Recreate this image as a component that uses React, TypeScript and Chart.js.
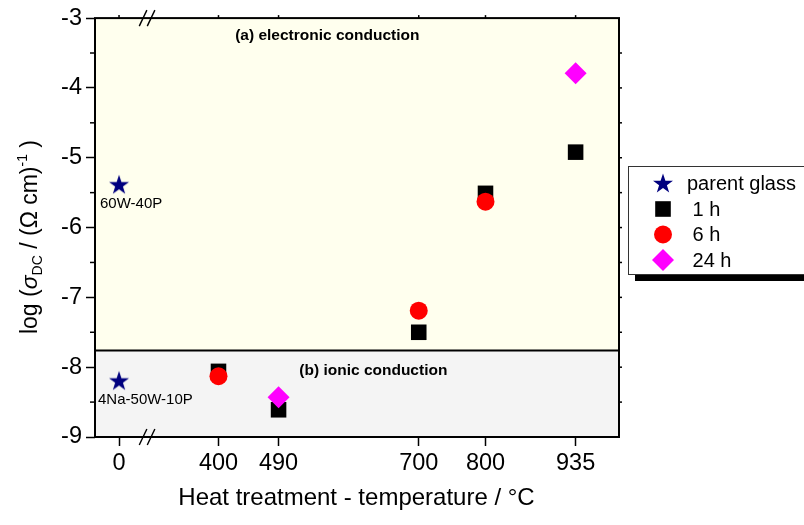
import React, { useEffect, useRef } from 'react';
import { Chart, registerables } from 'chart.js';

Chart.register(...registerables);

// ---- data ----
const temperatureTicks = [0, 400, 490, 700, 800, 935];
const tickLabels = ['0', '400', '490', '700', '800', '935'];
const yTickValues = [-9, -8, -7, -6, -5, -4, -3];

const parentX = [0, 0];
const parentY = [-5.38, -8.19];
const h1X = [400, 490, 700, 800, 935];
const h1Y = [-8.06, -8.61, -7.5, -5.51, -4.92];
const h6X = [400, 700, 800];
const h6Y = [-8.13, -7.19, -5.63];
const h24X = [490, 935];
const h24Y = [-8.43, -3.79];

const legendLabels = ['parent glass', ' 1 h', ' 6 h', ' 24 h'];
const regionBoundary = -7.76;
const regionATitle = '(a) electronic conduction';
const regionBTitle = '(b) ionic conduction';
const sampleLabels = ['60W-40P', '4Na-50W-10P'];
const xTitle = 'Heat treatment - temperature / \u00B0C';

// broken axis: 0 °C is drawn left of the break
const ZERO_POS = 251;
const BREAK_POS = 293;
const toAxis = (t: number) => (t === 0 ? ZERO_POS : t);

const NAVY = '#00007f';
const FONT = "'Liberation Sans', Arial, sans-serif";

function makeStar(): HTMLCanvasElement {
  const c = document.createElement('canvas');
  c.width = 24;
  c.height = 24;
  const ctx = c.getContext('2d')!;
  const R = 10.5;
  const r = 4.1;
  const cx = 12;
  const cy = 13;
  ctx.beginPath();
  for (let i = 0; i < 10; i++) {
    const a = -Math.PI / 2 + (i * Math.PI) / 5;
    const rad = i % 2 === 0 ? R : r;
    ctx.lineTo(cx + rad * Math.cos(a), cy + rad * Math.sin(a));
  }
  ctx.closePath();
  ctx.fillStyle = NAVY;
  ctx.fill();
  return c;
}

const pts = (xs: number[], ys: number[]) => xs.map((x, i) => ({ x: toAxis(x), y: ys[i] }));

export default function App() {
  const ref = useRef<HTMLCanvasElement>(null);

  useEffect(() => {
    if (!ref.current) return;
    const star = makeStar();

    const decor = {
      id: 'decor',
      beforeDraw(chart: any) {
        const { ctx, chartArea: a, scales } = chart;
        const yb = scales.y.getPixelForValue(regionBoundary);
        ctx.save();
        ctx.fillStyle = '#ffffee';
        ctx.fillRect(a.left, a.top, a.right - a.left, yb - a.top);
        ctx.fillStyle = '#f4f4f4';
        ctx.fillRect(a.left, yb, a.right - a.left, a.bottom - yb);
        ctx.restore();
      },
      afterDraw(chart: any) {
        const { ctx, chartArea: a, scales } = chart;
        const xs = scales.x;
        const ys = scales.y;
        ctx.save();
        ctx.strokeStyle = '#000';
        // divider
        const yb = ys.getPixelForValue(regionBoundary);
        ctx.lineWidth = 2;
        ctx.beginPath();
        ctx.moveTo(a.left, yb);
        ctx.lineTo(a.right, yb);
        ctx.stroke();
        // frame
        ctx.strokeRect(a.left, a.top, a.right - a.left, a.bottom - a.top);
        // minor ticks left, ticks right
        ctx.lineWidth = 1.5;
        for (let v = -9; v <= -3.001; v += 0.5) {
          const p = ys.getPixelForValue(v);
          if (Math.abs(v - Math.round(v)) > 0.1) {
            ctx.beginPath();
            ctx.moveTo(a.left - 5, p);
            ctx.lineTo(a.left, p);
            ctx.stroke();
          }
          if (v > -9) {
            ctx.beginPath();
            ctx.moveTo(a.right, p);
            ctx.lineTo(a.right + 3, p);
            ctx.stroke();
          }
        }
        // top ticks
        temperatureTicks.forEach((t) => {
          const p = xs.getPixelForValue(toAxis(t));
          ctx.beginPath();
          ctx.moveTo(p, a.top);
          ctx.lineTo(p, a.top - 3);
          ctx.stroke();
        });
        // break marks
        const bx = xs.getPixelForValue(BREAK_POS);
        [a.top, a.bottom].forEach((yy: number) => {
          [-4, 4].forEach((dx) => {
            ctx.beginPath();
            ctx.lineWidth = 1.4;
            ctx.moveTo(bx + dx - 3.8, yy + 8);
            ctx.lineTo(bx + dx + 3.8, yy - 8);
            ctx.stroke();
          });
        });
        // region titles
        ctx.fillStyle = '#000';
        ctx.textBaseline = 'middle';
        ctx.textAlign = 'center';
        ctx.font = `bold 15.5px ${FONT}`;
        ctx.fillText(regionATitle, xs.getPixelForValue(563), a.top + 18);
        ctx.fillText(regionBTitle, xs.getPixelForValue(632), yb + 20);
        // sample labels
        ctx.font = `15px ${FONT}`;
        ctx.textAlign = 'left';
        const sx = xs.getPixelForValue(toAxis(parentX[0]));
        ctx.fillText(sampleLabels[0], sx - 19, ys.getPixelForValue(parentY[0]) + 20);
        ctx.fillText(sampleLabels[1], sx - 21, ys.getPixelForValue(parentY[1]) + 19);
        // x title
        ctx.textAlign = 'center';
        ctx.textBaseline = 'alphabetic';
        ctx.font = `24px ${FONT}`;
        ctx.fillText(xTitle, (a.left + a.right) / 2 - 0.5, 505);
        // y title with sub/superscripts
        const parts: [string, string, number][] = [
          ['log (', `23px ${FONT}`, 0],
          ['\u03C3', `italic 23px ${FONT}`, 0],
          ['DC', `14px ${FONT}`, 5],
          [' / (\u03A9 cm)', `23px ${FONT}`, 0],
          ['-1', `14px ${FONT}`, -10],
          [' )', `23px ${FONT}`, 0],
        ];
        let total = 0;
        parts.forEach(([s, f]) => {
          ctx.font = f;
          total += ctx.measureText(s).width;
        });
        ctx.translate(37, 237);
        ctx.rotate(-Math.PI / 2);
        ctx.textAlign = 'left';
        let cx = -total / 2;
        parts.forEach(([s, f, dy]) => {
          ctx.font = f;
          ctx.fillText(s, cx, dy);
          cx += ctx.measureText(s).width;
        });
        ctx.restore();

        // legend
        ctx.save();
        const lx = 628;
        const ly = 166;
        ctx.fillStyle = '#000';
        ctx.fillRect(lx + 7, 274, 200, 7);
        ctx.fillStyle = '#fff';
        ctx.fillRect(lx, ly, 200, 108);
        ctx.strokeStyle = '#333';
        ctx.lineWidth = 1;
        ctx.strokeRect(lx + 0.5, ly + 0.5, 200, 108);
        const mx = 663;
        const rows = [183, 209, 234.5, 260];
        ctx.drawImage(star, mx - 12, rows[0] - 12);
        ctx.fillStyle = '#000';
        ctx.fillRect(mx - 7.8, rows[1] - 7.8, 15.6, 15.6);
        ctx.fillStyle = '#ff0000';
        ctx.beginPath();
        ctx.arc(mx, rows[2], 9, 0, Math.PI * 2);
        ctx.fill();
        ctx.fillStyle = '#ff00ff';
        ctx.beginPath();
        ctx.moveTo(mx, rows[3] - 11);
        ctx.lineTo(mx + 11, rows[3]);
        ctx.lineTo(mx, rows[3] + 11);
        ctx.lineTo(mx - 11, rows[3]);
        ctx.closePath();
        ctx.fill();
        ctx.fillStyle = '#000';
        ctx.font = `20px ${FONT}`;
        ctx.textAlign = 'left';
        ctx.textBaseline = 'middle';
        legendLabels.forEach((l, i) => ctx.fillText(l, 687, rows[i] + 1));
        ctx.restore();
      },
    };

    const chart = new Chart(ref.current, {
      type: 'scatter',
      data: {
        datasets: [
          { label: legendLabels[0], data: pts(parentX, parentY), pointStyle: star as any, order: 3 },
          { label: legendLabels[1], data: pts(h1X, h1Y), pointStyle: 'rect', pointRadius: 11, backgroundColor: '#000', order: 2 },
          { label: legendLabels[2], data: pts(h6X, h6Y), pointStyle: 'circle', pointRadius: 9, backgroundColor: '#ff0000', order: 1 },
          { label: legendLabels[3], data: pts(h24X, h24Y), pointStyle: 'rectRot', pointRadius: 11, backgroundColor: '#ff00ff', order: 0 },
        ] as any,
      },
      options: {
        animation: false,
        responsive: false,
        events: [],
        elements: { point: { borderWidth: 0 } },
        layout: { padding: { left: 0, top: 17.5, right: 185, bottom: 0 } },
        plugins: { legend: { display: false }, tooltip: { enabled: false } },
        scales: {
          x: {
            type: 'linear',
            min: 215,
            max: 1000,
            border: { display: false },
            grid: { drawOnChartArea: false, drawTicks: true, tickLength: 9, tickWidth: 1.5, tickColor: '#000' },
            afterBuildTicks: (s: any) => {
              s.ticks = temperatureTicks.map((t) => ({ value: toAxis(t) }));
            },
            afterFit: (s: any) => {
              s.height = 88;
            },
            ticks: {
              color: '#000',
              font: { family: FONT, size: 23.5 },
              padding: 3,
              maxRotation: 0,
              autoSkip: false,
              callback: (v: any) => {
                const i = temperatureTicks.findIndex((t) => toAxis(t) === v);
                return i >= 0 ? tickLabels[i] : '';
              },
            },
          },
          y: {
            type: 'linear',
            min: -9,
            max: -3,
            border: { display: false },
            grid: { drawOnChartArea: false, drawTicks: true, tickLength: 9, tickWidth: 1.5, tickColor: '#000' },
            afterBuildTicks: (s: any) => {
              s.ticks = yTickValues.map((v) => ({ value: v }));
            },
            afterFit: (s: any) => {
              s.width = 95;
            },
            ticks: {
              color: '#000',
              font: { family: FONT, size: 23.5 },
              padding: 4,
              callback: (v: any) => String(v),
            },
          },
        },
      },
      plugins: [decor],
    });
    return () => chart.destroy();
  }, []);

  return (
    <div style={{ position: 'fixed', left: 0, top: 0, width: 804, height: 525, background: '#fff' }}>
      <canvas ref={ref} width={804} height={525} style={{ width: 804, height: 525, display: 'block' }} />
    </div>
  );
}
